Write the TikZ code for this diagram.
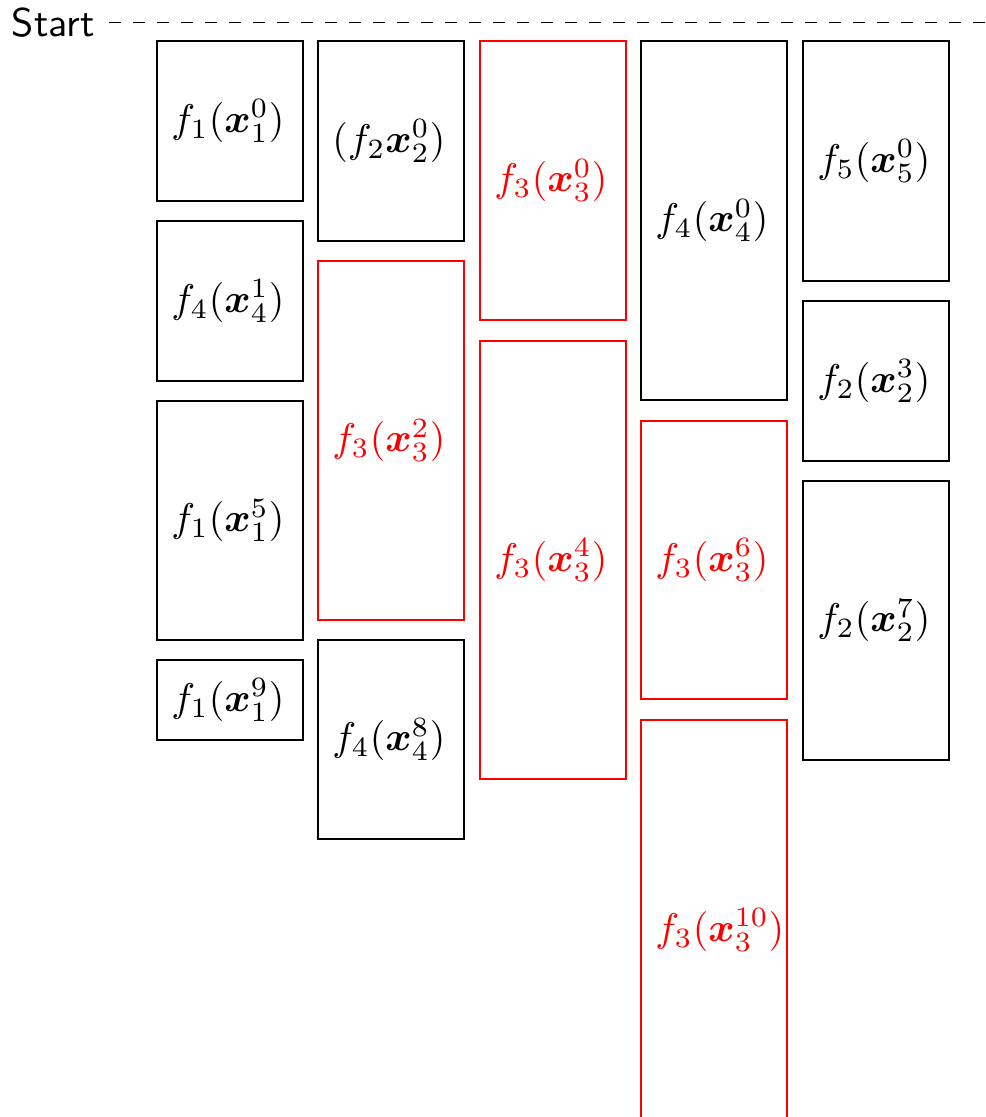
\documentclass[tikz,border=0pt]{standalone}
\usepackage{amsmath,bm}
\begin{document}
% one unit = one pixel of the layout grid; y grows downwards
\begin{tikzpicture}[x=0.25pt,y=-0.25pt,
  box/.style={draw=black,line width=0.33pt,rectangle,inner ysep=0pt,
              inner xsep=3.6pt,minimum width=36.5pt,
              text width=29.3pt,align=left},
  crit/.style={box,draw=red,text=red},
  plain/.style={box}]
\useasboundingbox (0,0) rectangle (986,1117);
\clip (0,0) rectangle (986,1117);
% #1 style, #2 name, #3 left edge, #4 top, #5 bottom, #6 label
\newcommand\jobbox[6]{%
  \pgfmathsetmacro\bx{#3+73}%
  \pgfmathsetmacro\by{(#4+#5)/2}%
  \pgfmathsetmacro\bh{(#5-#4)*0.25}%
  \node[#1,minimum height=\bh pt] (#2) at (\bx,\by) {#6};}

% time origin
\node[font=\sffamily,anchor=east] (start) at (109,22.5) {Start};
\coordinate (startend) at (990,22.5);
\draw[dashed,line width=0.33pt] (start.east) -- (startend);

% column 1
\jobbox{plain}{a1}{157}{41}{201}{$f_1(\bm{x}_1^0)$}
\jobbox{plain}{a2}{157}{221}{381}{$f_4(\bm{x}_4^1)$}
\jobbox{plain}{a3}{157}{401}{640}{$f_1(\bm{x}_1^5)$}
\jobbox{plain}{a4}{157}{660}{740}{$f_1(\bm{x}_1^9)$}
% column 2
\jobbox{plain}{b1}{318}{41}{241}{$(f_2\bm{x}_2^0)$}
\jobbox{crit}{b2}{318}{261}{620}{$f_3(\bm{x}_3^2)$}
\jobbox{plain}{b3}{318}{640}{839}{$f_4(\bm{x}_4^8)$}
% column 3
\jobbox{crit}{c1}{480}{41}{320}{$f_3(\bm{x}_3^0)$}
\jobbox{crit}{c2}{480}{341}{779}{$f_3(\bm{x}_3^4)$}
% column 4
\jobbox{plain}{d1}{641}{41}{400}{$f_4(\bm{x}_4^0)$}
\jobbox{crit}{d2}{641}{421}{699}{$f_3(\bm{x}_3^6)$}
\jobbox{crit}{d3}{641}{720}{1140}{$f_3(\bm{x}_3^{10})$}
% column 5
\jobbox{plain}{e1}{803}{41}{281}{$f_5(\bm{x}_5^0)$}
\jobbox{plain}{e2}{803}{301}{461}{$f_2(\bm{x}_2^3)$}
\jobbox{plain}{e3}{803}{481}{760}{$f_2(\bm{x}_2^7)$}
\end{tikzpicture}
\end{document}
